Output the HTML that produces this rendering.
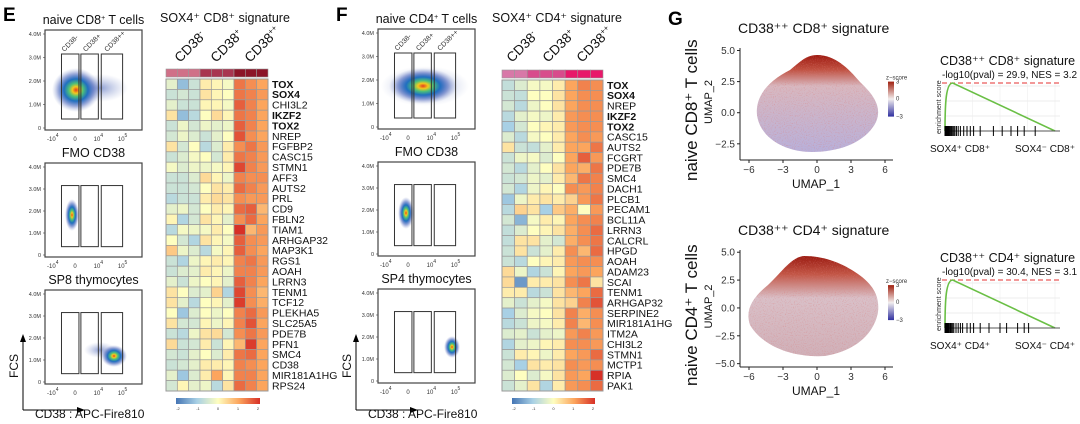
<!DOCTYPE html>
<html><head><meta charset="utf-8">
<style>
html,body{margin:0;padding:0;background:#fff;}
svg{display:block;font-family:"Liberation Sans",Arial,sans-serif;}
</style></head>
<body>
<svg id="fig" width="1080" height="424" viewBox="0 0 1080 424" xmlns="http://www.w3.org/2000/svg">
<defs>
  <radialGradient id="dens" cx="50%" cy="50%" r="50%">
    <stop offset="0" stop-color="#e53d1f"/>
    <stop offset="0.15" stop-color="#f2c91e"/>
    <stop offset="0.3" stop-color="#4cc07a"/>
    <stop offset="0.5" stop-color="#1f6fc0"/>
    <stop offset="0.75" stop-color="#2a4ab0" stop-opacity="0.45"/>
    <stop offset="1" stop-color="#8090c8" stop-opacity="0"/>
  </radialGradient>
  <radialGradient id="haze" cx="50%" cy="50%" r="50%">
    <stop offset="0" stop-color="#3050b0" stop-opacity="0.55"/>
    <stop offset="1" stop-color="#8090c8" stop-opacity="0"/>
  </radialGradient>
  <linearGradient id="umapTop" x1="0" y1="0" x2="0" y2="1">
    <stop offset="0" stop-color="#9e1a10"/>
    <stop offset="0.15" stop-color="#c05040"/>
    <stop offset="0.32" stop-color="#d8b8c0"/>
    <stop offset="1" stop-color="#b8b0da"/>
  </linearGradient>
  <linearGradient id="umapBot" x1="0" y1="0" x2="0" y2="1">
    <stop offset="0" stop-color="#9a1a10"/>
    <stop offset="0.18" stop-color="#c25545"/>
    <stop offset="0.42" stop-color="#d9c0c8"/>
    <stop offset="1" stop-color="#d0b0b8"/>
  </linearGradient>
  <linearGradient id="zbar" x1="0" y1="0" x2="0" y2="1">
    <stop offset="0" stop-color="#a0200f"/>
    <stop offset="0.5" stop-color="#f2eeee"/>
    <stop offset="1" stop-color="#3030a0"/>
  </linearGradient>
  <linearGradient id="hbar" x1="0" y1="0" x2="1" y2="0">
    <stop offset="0" stop-color="#4575b4"/>
    <stop offset="0.25" stop-color="#a8d0e5"/>
    <stop offset="0.5" stop-color="#fefec0"/>
    <stop offset="0.75" stop-color="#fca55d"/>
    <stop offset="1" stop-color="#d73027"/>
  </linearGradient>
  <filter id="speck" x="0" y="0" width="100%" height="100%">
    <feTurbulence type="fractalNoise" baseFrequency="0.9" numOctaves="1" seed="3"/>
    <feColorMatrix values="0 0 0 0 0.7  0 0 0 0 0.2  0 0 0 0 0.2  0 0 0 2.5 -1.3"/>
    <feComposite in2="SourceGraphic" operator="in"/>
  </filter>
</defs>
<g id="root"></g>
</svg>
<script>
// ---------- heatmap data ----------
const genesE = ["TOX","SOX4","CHI3L2","IKZF2","TOX2","NREP","FGFBP2","CASC15","STMN1","AFF3","AUTS2","PRL","CD9","FBLN2","TIAM1","ARHGAP32","MAP3K1","RGS1","AOAH","LRRN3","TENM1","TCF12","PLEKHA5","SLC25A5","PDE7B","PFN1","SMC4","CD38","MIR181A1HG","RPS24"];
const boldE = ["TOX","SOX4","IKZF2","TOX2"];
const valuesE = [
[-0.3,-1.2,-0.6,0.2,0.1,-0.1,1.4,1.2,1.0],
[-0.6,-0.5,-0.6,0.3,0.1,0,1.4,1.3,1.1],
[-0.3,-0.6,-0.6,0.1,0.1,-0.1,1.6,1.3,1.0],
[0.3,-1.2,-0.8,0,0.4,0.1,1.4,1.3,1.0],
[-0.6,-0.2,-0.5,-0.2,-0.3,-0.2,1.6,1.3,1.0],
[-0.5,-0.2,-0.4,-0.6,-0.3,0,1.7,1.2,1.0],
[0.3,-0.5,0,-0.8,-0.4,0.2,1.2,1.4,1.1],
[-0.6,-0.4,-0.1,0,-0.5,0.2,1.4,1.3,1.1],
[-0.1,-0.4,-0.2,-0.2,-0.1,0.1,1.8,1.3,1.1],
[-0.6,-0.6,-0.4,0.4,0.1,-0.2,1.3,1.2,1.2],
[-0.6,-0.6,-0.5,0,0.3,0.2,1.5,1.3,1.1],
[-0.8,-0.6,-0.6,0.2,0.4,0.3,1.2,1.1,1.1],
[-0.3,-0.2,-0.5,0,0.2,0.1,1.5,1.6,0.8],
[0.1,-0.9,-0.5,0.3,0.1,-0.3,1.2,1.5,1.0],
[-0.8,-0.1,-0.2,-0.1,0.2,0,2.0,0.8,1.1],
[0,-0.5,-0.9,0.3,0.1,-0.1,1.6,1.2,1.1],
[0.6,-0.2,-0.4,-0.8,-0.1,0.1,1.6,1.2,1.0],
[-0.6,-0.9,-0.2,0.1,0.2,0.1,1.3,1.4,1.1],
[-0.6,-0.4,-0.3,0.2,0.1,-0.2,1.3,1.3,1.1],
[-0.3,-0.6,-0.2,0,0.1,-0.3,1.6,1.3,1.0],
[0.3,0,-0.4,-0.3,0.5,-0.9,1.8,1.2,0.8],
[0.3,-0.3,-0.8,0,0.1,-0.3,1.9,1.2,0.9],
[0,-1.1,-0.4,0,-0.2,0,1.3,1.5,1.1],
[0.3,-0.5,-0.5,0.1,-0.2,0.1,1.3,1.7,1.0],
[-0.6,-0.8,-0.2,0.3,0.4,-0.5,1.2,1.4,1.1],
[0.4,-0.6,-0.5,0.2,-0.6,0.1,0.8,1.9,1.0],
[-0.5,-0.6,-0.3,0,-0.4,0.2,1.4,1.5,1.0],
[-0.6,-0.5,-0.3,0.2,0.2,0.1,1.3,1.2,1.0],
[-0.3,-1.1,-0.4,0.2,1.0,0.1,1.3,1.3,1.0],
[-0.5,0.1,-0.3,-0.2,-0.8,0.3,1.5,1.3,1.0]];
const groupsE = [0,0,0,1,1,1,2,2,2];
const annColE = ["#d07088","#a83550","#8c1428"];

const genesF = ["TOX","SOX4","NREP","IKZF2","TOX2","CASC15","AUTS2","FCGRT","PDE7B","SMC4","DACH1","PLCB1","PECAM1","BCL11A","LRRN3","CALCRL","HPGD","AOAH","ADAM23","SCAI","TENM1","ARHGAP32","SERPINE2","MIR181A1HG","ITM2A","CHI3L2","STMN1","MCTP1","RPIA","PAK1"];
const boldF = ["TOX","SOX4","IKZF2","TOX2"];
const valuesF = [
[-0.7,-0.4,-0.1,-0.1,0.2,1.0,1.3,1.2],
[-0.6,-0.7,0,0,0.3,1.0,1.2,1.2],
[-0.5,-0.8,-0.2,0,0.3,1.0,1.2,1.2],
[-0.8,-0.3,-0.1,-0.2,0.2,1.1,1.2,1.2],
[-1.0,-0.5,0,0.1,0.2,1.1,1.2,1.2],
[-0.4,-0.8,-0.1,0,0.2,1.0,1.2,1.1],
[0.3,-0.6,-0.7,-0.3,0.2,1.0,1.0,1.4],
[-0.6,-0.2,-0.1,-0.4,0,1.0,1.6,1.1],
[-0.5,-0.8,-0.3,0,0.3,1.0,0.9,1.4],
[-0.6,-0.5,-0.2,-0.3,0.2,0.8,1.4,1.3],
[-0.5,-0.9,-0.2,0.1,0,1.2,1.1,1.3],
[-1.1,-0.2,0.2,0.3,0.2,0.5,1.1,1.4],
[-0.8,0.5,0.3,-1.0,0.6,0.9,0,1.1],
[-0.5,-1.3,-0.1,0.2,0.1,1.0,1.2,1.3],
[-0.7,-0.4,0,0.1,0.3,0.9,1.2,1.5],
[-0.7,0.3,0.3,-0.3,-0.5,0.9,1.2,1.4],
[-0.6,0.3,-0.6,-0.3,0.2,1.2,0.8,1.5],
[-0.6,-0.8,0,0.1,0.2,1.1,1.2,1.2],
[0.4,-0.2,-0.9,-0.6,0.1,1.0,1.1,1.0],
[0.4,-1.6,0.2,0.2,0.3,1.2,1.4,0.3],
[0.2,0.2,-0.8,-0.6,0.3,0.8,1.0,1.5],
[-0.3,-0.6,-0.3,-0.1,0.3,0.5,1.3,1.7],
[-1.0,-0.4,-0.1,0,0.3,1.3,0.9,1.2],
[-0.8,-0.6,-0.2,-0.1,0.2,1.3,0.8,1.2],
[-0.4,-0.3,-0.6,-0.3,-0.2,1.1,1.3,1.1],
[-0.9,-0.3,-0.2,0.1,0.2,1.2,1.2,1.1],
[-0.6,0.2,0.1,-0.2,0.2,1.0,1.1,1.5],
[-0.5,-1.0,0.3,0.2,0.3,1.2,1.1,1.2],
[-0.4,0,-0.4,-0.1,0.3,1.1,1.0,2.0],
[-0.6,-0.3,0.3,-0.9,0.2,1.1,1.2,1.5]];
const groupsF = [0,0,1,1,1,2,2,2];
const annColF = ["#d878a8","#d84c8c","#e8186a"];

// ---------- GSEA data ----------
const gseaTopHits = [0,20,40,60,80,100,120,150,180,220,260,300,350,400,450,520,600,700,850,1000,1150,1300,1600,2200,2600,3000,3300,3600,4100];
const gseaTopPeak = 0.8;
const gseaTopStat = "-log10(pval) = 29.9, NES = 3.2";
const gseaBotHits = [0,20,40,60,80,100,130,160,200,250,300,350,400,500,600,700,800,1000,1150,1300,1600,2000,2500,2800,3300,3600,3800];
const gseaBotPeak = 0.8;
const gseaBotStat = "-log10(pval) = 30.4, NES = 3.1";
const gseaMaxRank = 5000;

const NS="http://www.w3.org/2000/svg";
const root=document.getElementById('root');
function el(tag,attrs,parent,text){const e=document.createElementNS(NS,tag);for(const k in attrs)e.setAttribute(k,attrs[k]);if(text!==undefined)e.textContent=text;(parent||root).appendChild(e);return e;}

function heatColor(v){
  const stops=[[-2,[69,117,180]],[-1,[168,208,229]],[0,[254,254,192]],[1,[252,165,93]],[2,[215,48,39]]];
  v=Math.max(-2,Math.min(2,v));
  for(let i=0;i<stops.length-1;i++){const a=stops[i],b=stops[i+1];if(v<=b[0]){const t=(v-a[0])/(b[0]-a[0]);const c=a[1].map((x,j)=>Math.round(x+(b[1][j]-x)*t));return `rgb(${c[0]},${c[1]},${c[2]})`;}}
  return 'rgb(215,48,39)';
}

function heatmap(name,x0,x1,y0,y1,genes,bold,vals,groups,annCols,headerX){
  const g=el('g',{},root);
  
  
  const nc=vals[0].length,nr=genes.length;
  const cw=(x1-x0)/nc,rh=(y1-y0)/nr;
  const xs=i=>x0+i*cw, ys=r=>y0+r*rh;
  for(let c=0;c<nc;c++){
    const a=el('rect',{x:xs(c),y:y0-10,width:cw,height:8,fill:annCols[groups[c]],stroke:'#999','stroke-width':0.6},g);
    
    
  }
  for(let r=0;r<nr;r++){
    for(let c=0;c<nc;c++){
      const rc=el('rect',{x:xs(c),y:ys(r),width:cw,height:rh,fill:heatColor(vals[r][c]),stroke:'#9a9a9a','stroke-width':0.7},g);
      
      
    }
    const t=el('text',{x:x1+4,y:ys(r)+rh*0.5+3.6,'font-size':10.5,fill:'#111','font-weight':bold.includes(genes[r])?'bold':'normal'},g,genes[r]);
    
    
  }
  el('rect',{x:x0,y:y0,width:x1-x0,height:y1-y0,fill:'none',stroke:'#999','stroke-width':1},g);
  const labs=[["CD38","-"],["CD38","+"],["CD38","++"]];
  labs.forEach((l,i)=>{
    const t=el('text',{x:headerX[i],y:63,'font-size':13.5,transform:`rotate(-45 ${headerX[i]} 63)`,fill:'#111'},g);
    
    
    el('tspan',{},t,l[0]);
    el('tspan',{dy:-5,'font-size':8},t,l[1]);
  });
  const ly=398;
  el('rect',{x:x0+10,y:ly,width:x1-x0-18,height:6,fill:'url(#hbar)'},g);
  ["-2","-1","0","1","2"].forEach((s,i)=>{
    el('text',{x:x0+12+i*(x1-x0-22)/4,y:ly+12,'font-size':4,fill:'#333','text-anchor':'middle'},g,s);
  });
}

function flowPanel(name,fx,fy,fw,fh,blobs){
  const g=el('g',{},root);
  
  
  el('rect',{x:fx,y:fy,width:fw,height:fh,fill:'#fff',stroke:'#444','stroke-width':1.2},g);
  const yl=["4.0M","3.0M","2.0M","1.0M","0"];
  yl.forEach((s,i)=>{
    const y=fy+4+i*(fh-6)/4;
    el('text',{x:fx-4,y:y+2,'font-size':5.5,'text-anchor':'end',fill:'#333'},g,s);
    el('line',{x1:fx-2,x2:fx,y1:y,y2:y,stroke:'#444','stroke-width':0.6},g);
  });
  const xl=[["-10","4",0.08],["0","",0.31],["10","4",0.55],["10","5",0.8]];
  xl.forEach(a=>{
    const x=fx+a[2]*fw;
    const t=el('text',{x:x,y:fy+fh+11,'font-size':6,'text-anchor':'middle',fill:'#333'},g);
    el('tspan',{},t,a[0]);
    if(a[1])el('tspan',{dy:-4,'font-size':5},t,a[1]);
  });
  blobs.forEach(b=>{
    el('ellipse',{cx:b[0],cy:b[1],rx:b[2],ry:b[3],fill:b[4]||'url(#dens)'},g);
  });
  const gates=[[0.17,0.35],[0.37,0.55],[0.58,0.8]];
  gates.forEach(gt=>{
    el('rect',{x:fx+gt[0]*fw,y:fy+0.24*fh,width:(gt[1]-gt[0])*fw,height:0.65*fh,fill:'none',stroke:'#333','stroke-width':1},g);
  });
  return g;
}

function flowColumn(prefix,fx,fw,tops,titles,blobs,letter,cd){
  el('text',{x:fx-42,y:21,'font-size':19,'font-weight':'bold',fill:'#000'},root,letter);
  tops.forEach((t,i)=>{
    flowPanel(prefix+'-flow-'+(i+1),fx,t,fw,100 - (i===0?0:6),blobs[i]);
    const tt=el('text',{x:fx+fw/2,y:t-6,'font-size':12.5,'text-anchor':'middle',fill:'#111'},root);
    
    
    if(i===0){el('tspan',{},tt,'naive '+cd);el('tspan',{dy:-4,'font-size':7},tt,'+');el('tspan',{dy:4},tt,' T cells');}
    else tt.textContent=titles[i];
  });
  ["CD38","CD38","CD38"].forEach((s,i)=>{
    const x=fx+[0.2,0.42,0.64][i]*fw, y=tops[0]+22;
    el('text',{x:x,y:y,'font-size':7,transform:`rotate(-45 ${x} ${y})`,fill:'#333'},root,s+["-","+","++"][i]);
  });
  const ax=fx-22;
  el('line',{x1:ax,y1:410,x2:ax,y2:340,stroke:'#000','stroke-width':1},root);
  el('path',{d:`M${ax-3} 342 L${ax} 334 L${ax+3} 342 Z`,fill:'#000'},root);
  el('line',{x1:ax,y1:410,x2:ax+56,y2:410,stroke:'#000','stroke-width':1},root);
  el('path',{d:`M${ax+54} 407 L${ax+62} 410 L${ax+54} 413 Z`,fill:'#000'},root);
  const fcs=el('text',{x:ax-5,y:378,'font-size':12,transform:`rotate(-90 ${ax-5} 378)`,fill:'#111'},root,'FCS');
  
  const xt=el('text',{x:ax+12,y:418,'font-size':12,fill:'#111'},root,'CD38 : APC-Fire810');
  
}

// E
flowColumn('e',45,97,[30,163,290],['','FMO CD38','SP8 thymocytes'],
  [[[100,88,28,14,'url(#haze)'],[76,90,24,22]],[[72,215,7,16]],[[100,350,16,8,'url(#haze)'],[114,356,13,11]]],'E','CD8');
el('text',{x:160,y:22,'font-size':12.5,fill:'#111'},root,'SOX4⁺ CD8⁺ signature');
heatmap('heatmap-e',166,268,79,391,genesE,boldE,valuesE,groupsE,annColE,[180,216,250]);
// F
flowColumn('f',378,97,[29,162,289],['','FMO CD38','SP4 thymocytes'],
  [[[425,86,44,20,'url(#haze)'],[423,86,34,18]],[[406,213,8,16]],[[452,347,8,11]]],'F','CD4');
el('text',{x:492,y:22,'font-size':12.5,fill:'#111'},root,'SOX4⁺ CD4⁺ signature');
heatmap('heatmap-f',502,603,80,391,genesF,boldF,valuesF,groupsF,annColF,[512,548,582]);

// G
el('text',{x:668,y:25,'font-size':19,'font-weight':'bold',fill:'#000'},root,'G');

function umap(name,top,yticks,title,rowLabel,rowY,shape,grad){
  const g=el('g',{},root);
  
  
  const x0=740,x1=893;
  const ymin=yticks.min,ymax=yticks.max;
  const yb=top+yticks.h, yt=top;
  const sy=v=>yb-(v-ymin)/(ymax-ymin)*(yb-yt);
  const sx=v=>749+(v+6)/12*(885-749);
  el('text',{x:738,y:top-15,'font-size':14,fill:'#111'},g,title);
  const rl=el('text',{x:697,y:rowY,'font-size':17,transform:`rotate(-90 697 ${rowY})`,fill:'#111'},g,rowLabel);
  
  el('text',{x:712,y:top+yticks.h/2+20,'font-size':11,transform:`rotate(-90 712 ${top+yticks.h/2+20})`,fill:'#111'},g,'UMAP_2');
  el('path',{d:shape,fill:grad},g);
  el('path',{d:shape,fill:'#fff',filter:'url(#speck)',opacity:0.6},g);
  el('line',{x1:x0,x2:x0,y1:yt,y2:yb,stroke:'#222','stroke-width':1},g);
  el('line',{x1:x0,x2:x1,y1:yb,y2:yb,stroke:'#222','stroke-width':1},g);
  yticks.v.forEach(v=>{
    const y=sy(v);
    el('line',{x1:x0-3,x2:x0,y1:y,y2:y,stroke:'#222'},g);
    el('text',{x:x0-5,y:y+3.5,'font-size':10,'text-anchor':'end',fill:'#333'},g,v.toFixed(1).replace('-','−'));
  });
  [-6,-3,0,3,6].forEach(v=>{
    const x=sx(v);
    el('line',{x1:x,x2:x,y1:yb,y2:yb+3,stroke:'#222'},g);
    el('text',{x:x,y:yb+13,'font-size':10,'text-anchor':'middle',fill:'#333'},g,String(v).replace('-','−'));
  });
  el('text',{x:816,y:yb+28,'font-size':12,'text-anchor':'middle',fill:'#111'},g,'UMAP_1');
  const ly=top+yticks.h*0.3;
  el('text',{x:886,y:ly-2,'font-size':6,fill:'#333'},g,'z−score');
  el('rect',{x:888,y:ly,width:6,height:35,fill:'url(#zbar)'},g);
  [["3",0],["0",17],["−3",35]].forEach(a=>el('text',{x:896,y:ly+a[1]+2,'font-size':6,fill:'#333'},g,a[0]));
}
umap('umap-cd8',48,{min:-3.8,max:5.2,h:112,v:[5.0,2.5,0.0,-2.5]},'CD38⁺⁺ CD8⁺ signature','naive CD8⁺ T cells',181,
 'M817 55 C835 55 848 68 860 82 C875 96 882 108 876 122 C866 142 840 152 812 152 C785 152 760 138 757 115 C755 95 770 80 790 70 C800 62 806 55 817 55 Z','url(#umapTop)');
umap('umap-cd4',250,{min:-5.3,max:5.2,h:117,v:[5.0,2.5,0.0,-2.5,-5.0]},'CD38⁺⁺ CD4⁺ signature','naive CD4⁺ T cells',386,
 'M805 256 C822 256 840 262 855 272 C872 283 880 295 878 312 C875 330 860 350 825 356 C790 358 762 345 750 325 C745 310 752 298 768 285 C782 272 792 256 805 256 Z','url(#umapBot)');

function gsea(name,top,titleTxt,statTxt,hits,peak,leftLab,rightLab){
  const g=el('g',{},root);
  
  
  const px0=945,px1=1055,py0=top,py1=top+48;
  const sx=r=>px0+r/gseaMaxRank*(px1-px0);
  const sy=v=>py1-v/peak*(py1-py0);
  el('text',{x:940,y:top-18,'font-size':12.5,fill:'#111'},g,titleTxt);
  el('text',{x:942,y:top-5,'font-size':10,fill:'#111'},g,statTxt);
  for(let i=1;i<4;i++)el('line',{x1:px0,x2:px1+5,y1:py1-i*(py1-py0)/3.2,y2:py1-i*(py1-py0)/3.2,stroke:'#e6e6e6','stroke-width':0.8},g);
  [0,1,2,3,4].forEach(i=>el('line',{x1:px0+i*27.5,x2:px0+i*27.5,y1:py0,y2:py1,stroke:'#eee','stroke-width':0.6},g));
  el('line',{x1:942,x2:1060,y1:py0,y2:py0,stroke:'#e53030','stroke-width':1,'stroke-dasharray':'5,3'},g);
  const peakRank=350;
  const d=`M${sx(0)} ${sy(0)} C${sx(0)} ${sy(peak*0.6)} ${sx(50)} ${sy(peak)} ${sx(peakRank)} ${sy(peak)} L${sx(gseaMaxRank)} ${sy(0)}`;
  const c=el('path',{d:d,fill:'none',stroke:'#6abf45','stroke-width':1.6},g);
  
  
  el('line',{x1:px0,x2:px1+5,y1:py1,y2:py1,stroke:'#555','stroke-width':1},g);
  hits.forEach(h=>{
    const m=el('line',{x1:sx(h),x2:sx(h),y1:py1-5,y2:py1+5,stroke:'#000','stroke-width':1},g);
    
    
  });
  el('text',{x:px0-4,y:py1+3,'font-size':7,transform:`rotate(-90 ${px0-4} ${py1+3})`,fill:'#333'},g,'enrichment score');
  el('text',{x:930,y:py1+21,'font-size':10,fill:'#111'},g,leftLab);
  el('text',{x:1015,y:py1+21,'font-size':10,fill:'#111'},g,rightLab);
}
gsea('gsea-cd8',83,'CD38⁺⁺ CD8⁺ signature',gseaTopStat,gseaTopHits,gseaTopPeak,'SOX4⁺ CD8⁺','SOX4⁻ CD8⁺');
gsea('gsea-cd4',280,'CD38⁺⁺ CD4⁺ signature',gseaBotStat,gseaBotHits,gseaBotPeak,'SOX4⁺ CD4⁺','SOX4⁻ CD4⁺');
</script>
</body></html>
